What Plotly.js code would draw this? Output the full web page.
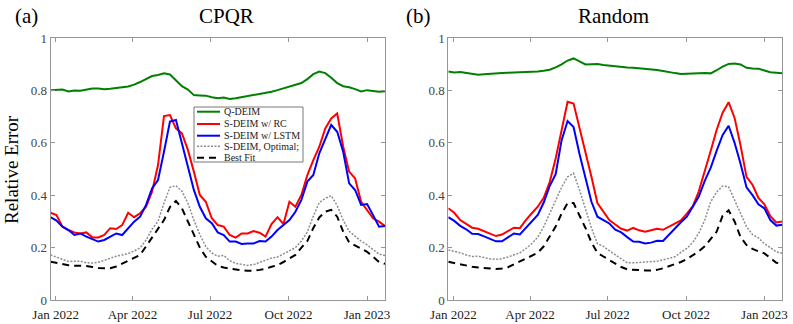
<!DOCTYPE html>
<html>
<head>
<meta charset="utf-8">
<script src="https://cdn.plot.ly/plotly-3.0.1.min.js"></script>
<style>
  body { margin: 0; background: #fff; }
  #chart { width: 793px; height: 324px; }
</style>
</head>
<body>
<div id="chart"></div>
<script>
// weekly dates
let weeks = [
  '2021-12-26', '2022-01-02', '2022-01-09', '2022-01-16', '2022-01-23', '2022-01-30',
  '2022-02-06', '2022-02-13', '2022-02-20', '2022-02-27', '2022-03-06', '2022-03-13',
  '2022-03-20', '2022-03-27', '2022-04-03', '2022-04-10', '2022-04-17', '2022-04-24',
  '2022-05-01', '2022-05-08', '2022-05-15', '2022-05-22', '2022-05-29', '2022-06-05',
  '2022-06-12', '2022-06-19', '2022-06-26', '2022-07-03', '2022-07-10', '2022-07-17',
  '2022-07-24', '2022-07-31', '2022-08-07', '2022-08-14', '2022-08-21', '2022-08-28',
  '2022-09-04', '2022-09-11', '2022-09-18', '2022-09-25', '2022-10-02', '2022-10-09',
  '2022-10-16', '2022-10-23', '2022-10-30', '2022-11-06', '2022-11-13', '2022-11-20',
  '2022-11-27', '2022-12-04', '2022-12-11', '2022-12-18', '2022-12-25', '2023-01-01',
  '2023-01-08', '2023-01-15', '2023-01-22'
]

let tickDates = ['2022-01-01', '2022-04-01', '2022-07-01', '2022-10-01', '2023-01-01']
let tickNames = ['Jan 2022', 'Apr 2022', 'Jul 2022', 'Oct 2022', 'Jan 2023']
let yTicks = [0, 0.2, 0.4, 0.6, 0.8, 1]
let yTickNames = ['0', '0.2', '0.4', '0.6', '0.8', '1']

let seriesNames = ['Q-DEIM', 'S-DEIM w/ RC', 'S-DEIM w/ LSTM', 'S-DEIM, Optimal;', 'Best Fit']

// (a) CPQR
let cpqrQ = [0.801, 0.803, 0.803, 0.796, 0.800, 0.799, 0.804, 0.807, 0.807, 0.804,
  0.806, 0.810, 0.812, 0.815, 0.822, 0.832, 0.845, 0.855, 0.859, 0.865,
  0.861, 0.838, 0.816, 0.803, 0.782, 0.781, 0.780, 0.774, 0.770, 0.773,
  0.767, 0.770, 0.774, 0.778, 0.782, 0.786, 0.789, 0.795, 0.801, 0.808,
  0.815, 0.821, 0.828, 0.843, 0.862, 0.872, 0.866, 0.848, 0.828, 0.816,
  0.812, 0.805, 0.796, 0.801, 0.799, 0.795, 0.797]
let cpqrRC = [0.333, 0.324, 0.280, 0.267, 0.258, 0.254, 0.258, 0.239, 0.239, 0.248,
  0.274, 0.271, 0.286, 0.333, 0.316, 0.331, 0.356, 0.413, 0.515, 0.702,
  0.706, 0.655, 0.636, 0.573, 0.490, 0.401, 0.375, 0.312, 0.286, 0.280,
  0.248, 0.238, 0.254, 0.254, 0.263, 0.257, 0.242, 0.290, 0.316, 0.290,
  0.375, 0.356, 0.401, 0.477, 0.534, 0.585, 0.655, 0.693, 0.712, 0.585,
  0.490, 0.464, 0.375, 0.344, 0.312, 0.299, 0.282]
let cpqrLSTM = [0.316, 0.303, 0.280, 0.267, 0.248, 0.254, 0.242, 0.232, 0.223, 0.229,
  0.242, 0.254, 0.248, 0.274, 0.299, 0.318, 0.363, 0.426, 0.458, 0.566,
  0.681, 0.687, 0.598, 0.509, 0.420, 0.356, 0.312, 0.293, 0.258, 0.248,
  0.223, 0.223, 0.214, 0.216, 0.216, 0.225, 0.223, 0.242, 0.267, 0.286,
  0.305, 0.337, 0.382, 0.452, 0.477, 0.560, 0.617, 0.668, 0.642, 0.566,
  0.445, 0.420, 0.363, 0.366, 0.324, 0.280, 0.282]
let cpqrOpt = [0.172, 0.163, 0.153, 0.147, 0.148, 0.148, 0.142, 0.141, 0.144, 0.152,
  0.162, 0.167, 0.172, 0.177, 0.187, 0.199, 0.229, 0.270, 0.300, 0.370,
  0.430, 0.436, 0.415, 0.370, 0.305, 0.250, 0.204, 0.180, 0.167, 0.170,
  0.150, 0.140, 0.136, 0.132, 0.135, 0.143, 0.152, 0.160, 0.164, 0.176,
  0.186, 0.200, 0.225, 0.260, 0.320, 0.372, 0.388, 0.398, 0.360, 0.305,
  0.262, 0.243, 0.225, 0.210, 0.192, 0.175, 0.170]
let cpqrFit = [0.146, 0.141, 0.136, 0.133, 0.131, 0.131, 0.130, 0.126, 0.122, 0.121,
  0.121, 0.128, 0.139, 0.147, 0.160, 0.172, 0.205, 0.240, 0.270, 0.305,
  0.355, 0.378, 0.350, 0.300, 0.245, 0.200, 0.165, 0.148, 0.130, 0.124,
  0.120, 0.116, 0.113, 0.112, 0.112, 0.115, 0.119, 0.127, 0.133, 0.145,
  0.160, 0.172, 0.200, 0.225, 0.275, 0.315, 0.337, 0.344, 0.318, 0.261,
  0.220, 0.209, 0.198, 0.184, 0.165, 0.145, 0.138]

// (b) Random
let randQ = [0.872, 0.868, 0.870, 0.867, 0.863, 0.860, 0.862, 0.864, 0.865, 0.866,
  0.867, 0.868, 0.868, 0.869, 0.870, 0.872, 0.875, 0.879, 0.888, 0.899,
  0.914, 0.922, 0.911, 0.899, 0.900, 0.901, 0.897, 0.894, 0.892, 0.890,
  0.887, 0.886, 0.884, 0.883, 0.881, 0.878, 0.874, 0.869, 0.866, 0.863,
  0.863, 0.863, 0.865, 0.866, 0.865, 0.877, 0.891, 0.901, 0.903, 0.899,
  0.886, 0.884, 0.883, 0.876, 0.869, 0.867, 0.865]
let randRC = [0.350, 0.333, 0.305, 0.290, 0.276, 0.272, 0.262, 0.254, 0.244, 0.250,
  0.262, 0.276, 0.274, 0.305, 0.331, 0.356, 0.390, 0.450, 0.540, 0.655,
  0.757, 0.750, 0.660, 0.560, 0.470, 0.370, 0.335, 0.305, 0.288, 0.272,
  0.265, 0.275, 0.266, 0.261, 0.266, 0.272, 0.268, 0.280, 0.290, 0.304,
  0.330, 0.358, 0.415, 0.490, 0.570, 0.650, 0.715, 0.755, 0.695, 0.590,
  0.470, 0.440, 0.390, 0.365, 0.320, 0.296, 0.300]
let randLSTM = [0.316, 0.302, 0.283, 0.270, 0.253, 0.252, 0.243, 0.235, 0.224, 0.224,
  0.238, 0.254, 0.250, 0.274, 0.298, 0.325, 0.372, 0.435, 0.480, 0.610,
  0.683, 0.660, 0.557, 0.460, 0.375, 0.318, 0.304, 0.292, 0.268, 0.258,
  0.240, 0.223, 0.222, 0.216, 0.219, 0.226, 0.225, 0.250, 0.274, 0.297,
  0.318, 0.355, 0.395, 0.455, 0.505, 0.570, 0.630, 0.665, 0.600, 0.520,
  0.430, 0.400, 0.365, 0.350, 0.305, 0.284, 0.287]
let randOpt = [0.191, 0.186, 0.180, 0.172, 0.166, 0.167, 0.161, 0.157, 0.155, 0.158,
  0.164, 0.172, 0.180, 0.196, 0.215, 0.240, 0.280, 0.330, 0.380, 0.430,
  0.470, 0.484, 0.420, 0.345, 0.275, 0.215, 0.205, 0.188, 0.172, 0.155,
  0.142, 0.142, 0.144, 0.146, 0.146, 0.148, 0.153, 0.158, 0.165, 0.182,
  0.197, 0.220, 0.255, 0.305, 0.375, 0.412, 0.435, 0.432, 0.382, 0.330,
  0.280, 0.250, 0.237, 0.215, 0.198, 0.184, 0.178]
let randFit = [0.146, 0.141, 0.136, 0.131, 0.127, 0.124, 0.122, 0.120, 0.118, 0.120,
  0.125, 0.136, 0.147, 0.158, 0.170, 0.180, 0.205, 0.240, 0.280, 0.330,
  0.370, 0.370, 0.322, 0.275, 0.220, 0.180, 0.166, 0.152, 0.138, 0.126,
  0.117, 0.115, 0.114, 0.113, 0.113, 0.115, 0.121, 0.128, 0.136, 0.145,
  0.156, 0.170, 0.186, 0.205, 0.235, 0.261, 0.322, 0.342, 0.300, 0.240,
  0.210, 0.195, 0.186, 0.178, 0.160, 0.142, 0.138]

let styles = [
  {color: 'rgb(0,128,0)', width: 2, dash: 'solid'},
  {color: 'rgb(255,0,0)', width: 2, dash: 'solid'},
  {color: 'rgb(0,0,255)', width: 2, dash: 'solid'},
  {color: 'rgb(140,140,140)', width: 1.5, dash: '2px,1.5px'},
  {color: 'rgb(0,0,0)', width: 2, dash: '7px,5px'}
]

let W = 793, H = 324
function px(x) { return x / W }
function py(y) { return 1 - y / H }

function makeTraces(series, xa, ya) {
  return series.map(function (vals, k) {
    return {
      x: weeks, y: vals, xaxis: xa, yaxis: ya,
      type: 'scatter', mode: 'lines', name: seriesNames[k],
      line: styles[k], showlegend: false, hoverinfo: 'skip'
    }
  })
}

let traces = makeTraces([cpqrQ, cpqrRC, cpqrLSTM, cpqrOpt, cpqrFit], 'x', 'y')
  .concat(makeTraces([randQ, randRC, randLSTM, randOpt, randFit], 'x2', 'y2'))

let axisGray = 'rgb(150,150,150)'
let tickFont = {family: 'Liberation Serif, serif', size: 13, color: '#222'}

function xAxis(dom, anchor) {
  return {
    domain: dom, anchor: anchor, type: 'date',
    range: [weeks[0], weeks[weeks.length - 1]],
    tickmode: 'array', tickvals: tickDates, ticktext: tickNames,
    ticks: 'inside', ticklen: 4, tickcolor: axisGray, tickwidth: 1,
    showline: true, linecolor: axisGray, linewidth: 1, mirror: 'ticks',
    showgrid: false, zeroline: false, tickfont: tickFont,
    ticklabelstandoff: 2
  }
}
function yAxis(anchor) {
  return {
    domain: [py(300), py(38)], anchor: anchor, range: [0, 1],
    tickmode: 'array', tickvals: yTicks, ticktext: yTickNames,
    ticks: 'inside', ticklen: 4, tickcolor: axisGray, tickwidth: 1,
    showline: true, linecolor: axisGray, linewidth: 1, mirror: 'ticks',
    showgrid: false, zeroline: false,
    tickfont: {family: 'Liberation Serif, serif', size: 13, color: '#444'}
  }
}

let titleFont = {family: 'Liberation Serif, Times New Roman, serif', size: 21, color: '#000'}
let legFont = {family: 'Liberation Serif, serif', size: 10, color: '#222'}

let annotations = [
  {text: '(a)', x: px(13), y: py(16), xanchor: 'left'},
  {text: 'CPQR', x: px(226), y: py(16), xanchor: 'center'},
  {text: '(b)', x: px(404), y: py(16), xanchor: 'left'},
  {text: 'Random', x: px(613), y: py(16), xanchor: 'center'}
].map(function (a) {
  return Object.assign({xref: 'paper', yref: 'paper', yanchor: 'middle', showarrow: false, font: titleFont}, a)
})
annotations.push({
  text: 'Relative Error', xref: 'paper', yref: 'paper', x: px(11), y: py(170),
  xanchor: 'center', yanchor: 'middle', textangle: -90, showarrow: false,
  font: {family: 'Liberation Serif, serif', size: 19, color: '#000'}
})

// hand-drawn legend in panel (a)
let legRows = [111.7, 124, 135.7, 146.3, 157.7]
let shapes = [{
  type: 'rect', xref: 'paper', yref: 'paper',
  x0: px(194), x1: px(303), y0: py(162), y1: py(107),
  line: {color: 'rgb(120,120,120)', width: 1}, fillcolor: 'white'
}]
seriesNames.forEach(function (name, k) {
  shapes.push({
    type: 'line', xref: 'paper', yref: 'paper',
    x0: px(197), x1: px(220), y0: py(legRows[k]), y1: py(legRows[k]),
    line: styles[k]
  })
  annotations.push({
    text: name, xref: 'paper', yref: 'paper', x: px(222), y: py(legRows[k]),
    xanchor: 'left', yanchor: 'middle', showarrow: false, font: legFont
  })
})

let layout = {
  width: W, height: H,
  margin: {l: 0, r: 0, t: 0, b: 0},
  paper_bgcolor: 'white', plot_bgcolor: 'white',
  showlegend: false,
  xaxis: xAxis([px(50.5), px(385)], 'y'),
  yaxis: yAxis('x'),
  xaxis2: xAxis([px(448.3), px(782.3)], 'y2'),
  yaxis2: yAxis('x2'),
  annotations: annotations,
  shapes: shapes
}

Plotly.newPlot('chart', traces, layout, {staticPlot: true, displayModeBar: false})
</script>
</body>
</html>
